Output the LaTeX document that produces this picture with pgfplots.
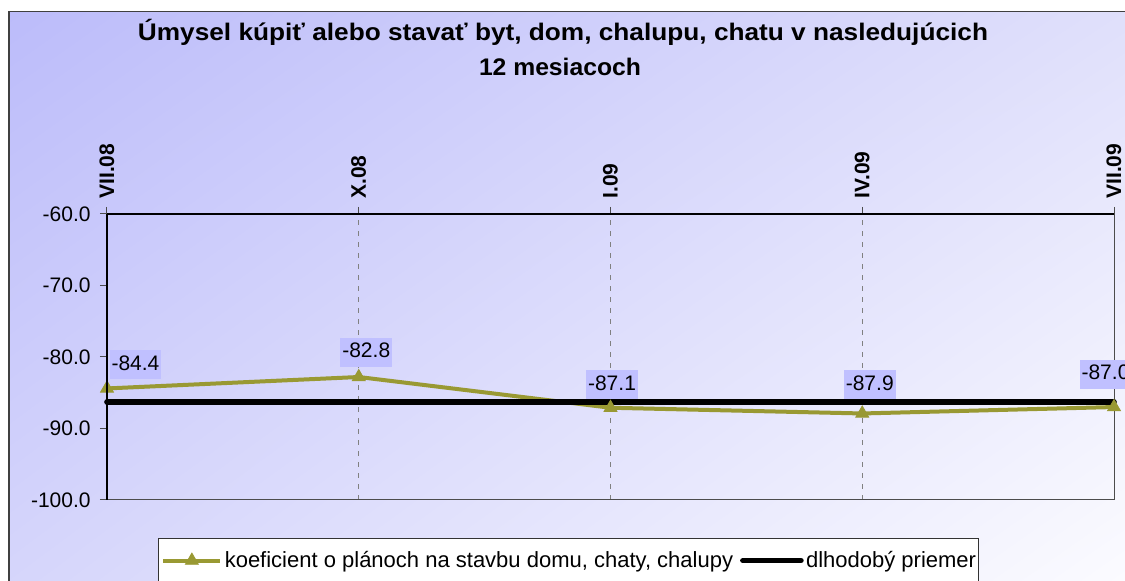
\documentclass[border=0pt]{standalone}
\usepackage{fontspec}
\setmainfont{Liberation Sans}
\usepackage{graphicx}
\usepackage{pgfplots}
\usepackage{pgfplotstable}
\usetikzlibrary{shadings}
\pgfplotsset{compat=1.18}
\definecolor{olivel}{RGB}{153,153,51}
\definecolor{labbg}{RGB}{192,192,255}
\definecolor{bgA}{RGB}{188,188,250}
\definecolor{bgB}{RGB}{224,224,251}
\definecolor{bgC}{RGB}{214,214,251}
\definecolor{bgD}{RGB}{252,252,255}

\pgfplotsset{
  olive legend/.style={legend image code/.code={\draw[##1, mark repeat=2, mark phase=2] plot coordinates {(0pt,0pt) (14.25pt,0pt) (28.5pt,0pt)};}},
  black legend/.style={legend image code/.code={\draw[##1] (0pt,0pt) -- (29pt,0pt);}},
}

\pgfplotstableread{
x y lab dx dy
0 -84.4 -84.4 14.25 4.5
1 -82.8 -82.8 3.75 5
2 -87.1 -87.1 0.75 4
3 -87.9 -87.9 3.75 7
4 -87.0 -87.0 -4.25 9
}\datatable

\pgfplotstableread{
x y
0 -86.3
4 -86.3
}\avgtable

\begin{document}
\begin{tikzpicture}[x=1pt,y=1pt]
\useasboundingbox (0,0) rectangle (562.5,290.5);
\shade[upper left=bgA, upper right=bgB, lower left=bgC, lower right=bgD] (4.5,-5) rectangle (570,284.75);
\draw[draw=black!75, line width=0.6pt] (4.5,-5) rectangle (570,284.75);
\draw[fill=white, draw=black!80, line width=0.5pt] (79,-5) rectangle (489,21);
\node[anchor=base, inner sep=0pt, font=\bfseries\fontsize{12}{14}\selectfont] at (281.5,270)
  {\resizebox{425pt}{\height}{Úmysel kúpiť alebo stavať byt, dom, chalupu, chatu v nasledujúcich}};
\node[anchor=base, inner sep=0pt, font=\bfseries\fontsize{12}{14}\selectfont] at (280,252.5)
  {\resizebox{81pt}{\height}{12 mesiacoch}};
\begin{axis}[
  at={(53.5pt,40.5pt)}, anchor=south west,
  scale only axis, width=503.5pt, height=143pt,
  xmin=0, xmax=4, ymin=-100, ymax=-60,
  xtick={0,1,2,3,4},
  xticklabels={VII.08,X.08,I.09,IV.09,VII.09},
  xtick pos=top, xticklabel pos=top,
  xticklabel style={rotate=90, anchor=west, font=\bfseries\fontsize{10.5}{12.6}\selectfont, inner sep=0pt},
  xticklabel shift=4pt,
  ytick={-100,-90,-80,-70,-60},
  yticklabels={-100.0,-90.0,-80.0,-70.0,-60.0},
  ytick pos=left,
  yticklabel style={font=\fontsize{10.5}{12.6}\selectfont, inner sep=0pt, anchor=east},
  yticklabel shift=4.5pt,
  tick align=outside, major tick length=3.5pt,
  tick style={black!70, line width=0.5pt},
  xmajorgrids,
  x grid style={black!50, line width=0.5pt, dash pattern=on 2.5pt off 3pt},
  axis line style={draw=black!70, line width=0.5pt},
  clip=false,
  legend columns=2,
  legend cell align=left,
  legend style={at={(axis description cs:0.0536,-0.2119)}, anchor=west,
    draw=none, fill=none, inner sep=0pt,
    nodes={inner sep=0pt, anchor=west},
    font=\fontsize{11}{13}\selectfont,
    /tikz/every odd column/.style={column sep=1.2pt},
    /tikz/every even column/.style={column sep=3.5pt}},
  after end axis/.code={
    \draw[black, line width=1pt] (rel axis cs:0,1) -- (rel axis cs:1,1);
    \draw[black, line width=0.6pt] (rel axis cs:0,0) -- (rel axis cs:0,1);
  },
]
\addplot[olivel, line width=2pt, mark=triangle*, mark size=3.75pt,
  mark options={solid, line width=0.4pt, fill=olivel}, olive legend]
  table[x=x, y=y] {\datatable};
\addlegendentry{koeficient o plánoch na stavbu domu, chaty, chalupy}
\addplot[black, line width=2.8pt, line cap=round, mark=none, black legend]
  table[x=x, y=y] {\avgtable};
\addlegendentry{dlhodobý priemer}
\addplot[draw=none, mark=none, forget plot,
  point meta=explicit symbolic,
  visualization depends on={\thisrow{dx} \as \dx},
  visualization depends on={\thisrow{dy} \as \dy},
  nodes near coords,
  nodes near coords align={anchor=south},
  every node near coord/.append style={fill=labbg, text=black, inner xsep=1pt, inner ysep=0pt,
    text height=10pt, text depth=4.5pt, anchor=south, xshift=\dx pt, yshift=\dy pt,
    font=\fontsize{10.5}{12.6}\selectfont}]
  table[x=x, y=y, meta=lab] {\datatable};
\end{axis}
\end{tikzpicture}
\end{document}
